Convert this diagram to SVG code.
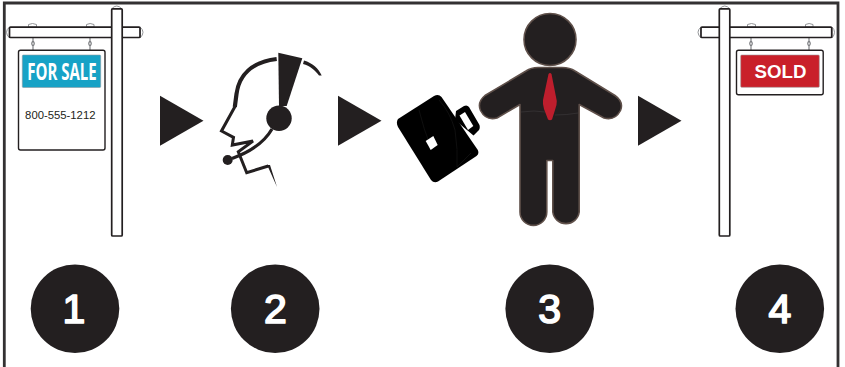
<svg xmlns="http://www.w3.org/2000/svg" width="845" height="367" viewBox="0 0 845 367">
<style>
.post{fill:#fff;stroke:#231f20;stroke-width:1.7}
.cap{fill:#fff;stroke:#939598;stroke-width:1}
.chain{fill:none;stroke:#808285;stroke-width:1.2}
.board{fill:#fff;stroke:#231f20;stroke-width:1.4}
.arrow{fill:#231f20}
.badge{fill:#231f20}
.num{font-family:"Liberation Sans",Arial,sans-serif;font-size:41px;fill:#fff;stroke:#fff;stroke-width:1.700;stroke-linejoin:round;text-anchor:middle}
.line{fill:none;stroke:#231f20;stroke-linejoin:miter}
.suit{fill:#231f20;stroke:#5f504a;stroke-width:1.6;stroke-linejoin:round}
.seam{fill:none;stroke:#4d4a4b;stroke-width:.4}
.seam2{fill:none;stroke:#333;stroke-width:.3}
</style>
<rect x="0" y="0" width="845" height="367" fill="#fff"/>
<path d="M4.300 367V3H838V367" fill="none" stroke="#333132" stroke-width="2.800"/>
<g id="connectors">
<path class="arrow" d="M160 95.700L203.500 120.700L160 145.700Z"/>
<path class="arrow" d="M338 95.700L381.500 120.700L338 145.700Z"/>
<path class="arrow" d="M638 95.700L681.500 120.700L638 145.700Z"/>
</g>
<g id="sign-for-sale">
<path class="cap" d="M111.500 9Q116.700 3 122 9ZM9.500 27Q3.500 32 9.500 38ZM140 27Q146 32 140 38ZM28.500 27V24.500Q32.500 22.500 36.500 24.500V27ZM86.500 27V24.500Q90 22.500 94 24.500V27Z"/>
<path class="chain" d="M33 38V41M33 46V50M33 41Q30.500 43.500 33 46Q35.500 43.500 33 41M90 38V41M90 46V50M90 41Q87.500 43.500 90 46Q92.500 43.500 90 41"/>
<rect class="post" x="9.500" y="27.200" width="130.500" height="10.300" rx="1"/>
<rect class="post" x="111.700" y="8.800" width="10.500" height="227.200" rx="1"/>
<rect class="board" x="18.500" y="50.300" width="86.500" height="99.700" rx="2"/>
<rect x="22.300" y="55" width="78.400" height="32.500" rx="1" fill="#17a2c6" stroke="#8a9ba3" stroke-width=".6"/>
<text x="62" y="80" text-anchor="middle" font-family="'Open Sans','Liberation Sans',sans-serif" font-size="23" font-weight="700" textLength="69.500" lengthAdjust="spacingAndGlyphs" fill="#fff">FOR SALE</text>
<text x="60.300" y="119" text-anchor="middle" font-family="'Liberation Sans',Arial,sans-serif" font-size="11.300" fill="#231f20">800-555-1212</text>
</g>
<g id="agent">
<path class="line" stroke-width="4.200" d="M276.700 59C252 62 239 75 236.500 94L234.800 107"/>
<path class="line" stroke-width="3" d="M235 106.500L221.500 131L233.500 137.300L232.300 145L253 141L238.300 151.700L246.700 172.700L268.300 166"/>
<path d="M267 165L270 165L277 187L268.500 168Z" fill="#231f20"/>
<path d="M278.300 52.700L302.300 58.300L286.700 106L279 106Z" fill="#231f20"/>
<path d="M304 60.500C312.500 63 318.500 68.500 321.700 75.500L319 75.500C315 70 310 66 303 64Z" fill="#231f20"/>
<circle cx="279" cy="118.300" r="12.700" fill="#231f20"/>
<path d="M272 129C264 143 250 152 232 158.500" fill="none" stroke="#231f20" stroke-width="3.200"/>
<circle cx="227.700" cy="160" r="5" fill="#231f20"/>
</g>
<g id="briefcase">
<path fill-rule="evenodd" d="M456 111L464 106Q467 104.500 469 107L479.500 125Q480.500 129 478 131L473.500 135.500L455 120Z" fill="#000"/>
<path d="M398 119L434 96Q438.500 93.500 441.500 97L477.800 150Q479.500 153.500 476.500 156L438 181.500Q434 183.500 431 180L398 127Q395.800 122 398 119Z" fill="#000"/>
<path d="M459.500 115.500L465 112L473.300 126L468 130Z" fill="#fff"/>
<path class="seam2" d="M419 110Q424 130 430 145M439 100Q450 112 455 130Q458 150 457 167L471 153"/>
<path d="M425.700 141L433.300 136L437.700 145L430.700 150Z" fill="#fff"/>
</g>
<g id="person">
<circle class="suit" cx="550" cy="39.500" r="26"/>
<path class="suit" d="M538 67.500H562Q570 67.500 575 71L615 95.500Q624 102 620.500 110.500Q615 121 604 118L579.200 104.500V212A13.300 13.300 0 0 1 552.800 212V160.500H546.800V212A13.300 13.300 0 0 1 520 212V104.500L497 118Q486 121 480.500 110.500Q477 102 485 95.500L526 71Q531 67.500 538 67.500Z"/>
<path class="seam" d="M521 112Q535 110 545 112M555 115Q567 115 578 113"/>
<path d="M548.500 74Q550 72 551.500 74L556.800 101Q557 105 555 110L552 119.500Q550 121 548 119.500L544 109Q542.500 104 543 100Z" fill="#be1e2d"/>
</g>
<g id="sign-sold">
<path class="cap" d="M719.500 9Q724.700 3 730 9ZM701 27Q695 32 701 38ZM832 27Q837 32 832 38ZM747.500 27V24.500Q751.500 22.500 755.500 24.500V27ZM805.500 27V24.500Q809 22.500 813 24.500V27Z"/>
<path class="chain" d="M751 38V41M751 46V50M751 41Q748.500 43.500 751 46Q753.500 43.500 751 41M809 38V41M809 46V50M809 41Q806.500 43.500 809 46Q811.500 43.500 809 41"/>
<rect class="post" x="701" y="27.200" width="130.700" height="10.300" rx="1"/>
<rect class="post" x="719.300" y="8.800" width="10.500" height="227.200" rx="1"/>
<rect class="board" x="736.500" y="50.300" width="86.700" height="44.500" rx="2"/>
<rect x="740.700" y="55" width="78.600" height="32.300" rx="1" fill="#c9202a" stroke="#a0999a" stroke-width=".6"/>
<text x="780.500" y="77.500" text-anchor="middle" font-family="'Liberation Sans',Arial,sans-serif" font-size="18.700" font-weight="700" fill="#fff">SOLD</text>
</g>
<g id="step-1"><circle class="badge" cx="75" cy="308.700" r="44.300"/><text class="num" x="74" y="322.500">1</text></g>
<g id="step-2"><circle class="badge" cx="275.200" cy="308.700" r="44.300"/><text class="num" x="275.500" y="322.500">2</text></g>
<g id="step-3"><circle class="badge" cx="549.700" cy="308.700" r="44.300"/><text class="num" x="549.700" y="322.500">3</text></g>
<g id="step-4"><circle class="badge" cx="779.800" cy="308.700" r="44.300"/><text class="num" x="779.800" y="322.500">4</text></g>
</svg>
